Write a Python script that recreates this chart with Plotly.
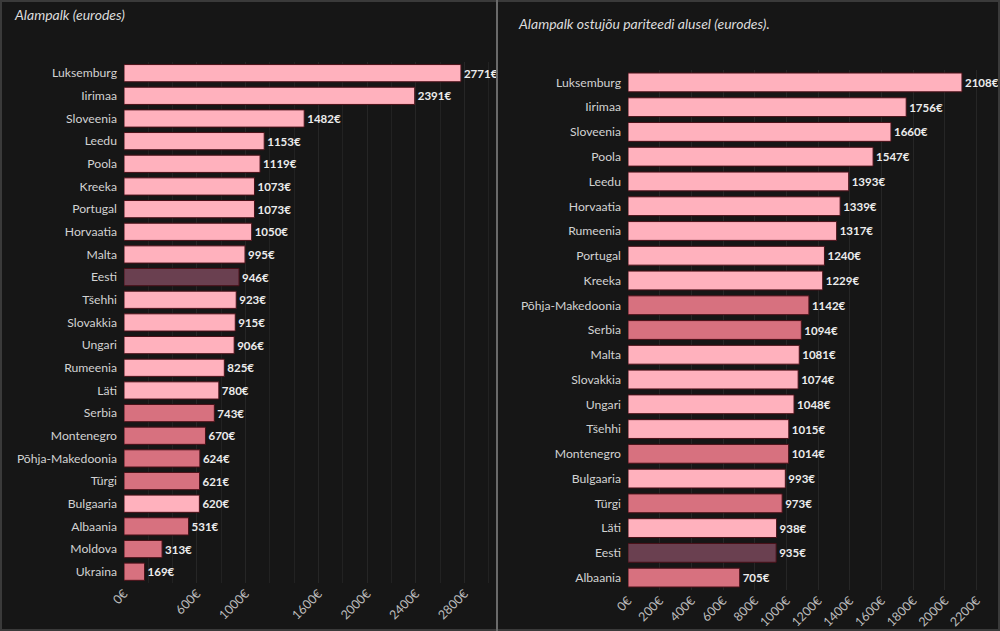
import plotly.graph_objects as go
from plotly.subplots import make_subplots

# left chart: minimum wage in euros
left_countries = ["Luksemburg", "Iirimaa", "Sloveenia", "Leedu", "Poola", "Kreeka", "Portugal",
                  "Horvaatia", "Malta", "Eesti", "Tšehhi", "Slovakkia", "Ungari", "Rumeenia", "Läti",
                  "Serbia", "Montenegro", "Põhja-Makedoonia", "Türgi", "Bulgaaria", "Albaania",
                  "Moldova", "Ukraina"]
left_values = [2771, 2391, 1482, 1153, 1119, 1073, 1073, 1050, 995, 946, 923, 915, 906, 825, 780,
               743, 670, 624, 621, 620, 531, 313, 169]
left_ticks = [0, 600, 1000, 1600, 2000, 2400, 2800]

# right chart: minimum wage at purchasing power parity
right_countries = ["Luksemburg", "Iirimaa", "Sloveenia", "Poola", "Leedu", "Horvaatia", "Rumeenia",
                   "Portugal", "Kreeka", "Põhja-Makedoonia", "Serbia", "Malta", "Slovakkia", "Ungari",
                   "Tšehhi", "Montenegro", "Bulgaaria", "Türgi", "Läti", "Eesti", "Albaania"]
right_values = [2108, 1756, 1660, 1547, 1393, 1339, 1317, 1240, 1229, 1142, 1094, 1081, 1074, 1048,
                1015, 1014, 993, 973, 938, 935, 705]
right_ticks = list(range(0, 2201, 200))

non_eu = ["Serbia", "Montenegro", "Põhja-Makedoonia", "Türgi", "Albaania", "Moldova", "Ukraina"]

EU_COLOR = "#ffb1bd"
NON_EU_COLOR = "#d7717f"
EST_COLOR = "#6a4050"
TXT = "#d2d2d2"
FONT = "Lato"


def bar_colors(countries):
    out = []
    for c in countries:
        if c == "Eesti":
            out.append(EST_COLOR)
        elif c in non_eu:
            out.append(NON_EU_COLOR)
        else:
            out.append(EU_COLOR)
    return out


fig = make_subplots(rows=1, cols=2)

fig.add_trace(go.Bar(
    x=left_values, y=left_countries, orientation="h",
    marker=dict(color=bar_colors(left_countries), line=dict(color="#4a1018", width=1)),
    text=[f"<b>{v}€</b>" for v in left_values], textposition="outside", cliponaxis=False,
    textfont=dict(color="#ececec", size=11.5, family=FONT),
    showlegend=False, hoverinfo="x+y",
), row=1, col=1)

fig.add_trace(go.Bar(
    x=right_values, y=right_countries, orientation="h",
    marker=dict(color=bar_colors(right_countries), line=dict(color="#4a1018", width=1)),
    text=[f"<b>{v}€</b>" for v in right_values], textposition="outside", cliponaxis=False,
    textfont=dict(color="#ececec", size=11.5, family=FONT),
    showlegend=False, hoverinfo="x+y",
), row=1, col=2)

fig.update_traces(width=0.76)

axis_common = dict(
    showline=False, zeroline=False, gridcolor="#262626", gridwidth=1, automargin=False,
    tickangle=-45, tickfont=dict(color="#bdbdbd", size=12.5, family=FONT), ticks="",
)

fig.update_xaxes(domain=[0.124, 0.49], range=[0, 3010], tickmode="array", tickvals=left_ticks,
                 ticktext=[f"{t}€" for t in left_ticks],
                 minor=dict(dtick=200, showgrid=True, gridcolor="#222222"),
                 **axis_common, row=1, col=1)
fig.update_xaxes(domain=[0.628, 0.99], range=[0, 2285], tickmode="array", tickvals=right_ticks,
                 ticktext=[f"{t}€" for t in right_ticks],
                 **axis_common, row=1, col=2)

fig.update_yaxes(domain=[0.076, 0.902], autorange="reversed", showgrid=False, automargin=False,
                 tickfont=dict(color=TXT, size=12.2, family=FONT), ticklabelstandoff=6,
                 row=1, col=1)
fig.update_yaxes(domain=[0.065, 0.889], autorange="reversed", showgrid=False, automargin=False,
                 tickfont=dict(color=TXT, size=12.2, family=FONT), ticklabelstandoff=6,
                 row=1, col=2)

fig.update_layout(
    width=1000, height=631,
    margin=dict(l=0, r=0, t=0, b=0, autoexpand=False),
    paper_bgcolor="#161616", plot_bgcolor="#161616",
    bargap=0.24,
    font=dict(family=FONT, color=TXT),
    shapes=[
        dict(type="rect", xref="paper", yref="paper", x0=0, x1=1, y0=0, y1=1,
             line=dict(color="#3a3a3a", width=4), fillcolor="rgba(0,0,0,0)"),
        dict(type="line", xref="paper", yref="paper", x0=0.497, x1=0.497, y0=0, y1=1,
             line=dict(color="#6a6a6a", width=2)),
    ],
    annotations=[
        dict(text="<i>Alampalk (eurodes)</i>", xref="paper", yref="paper", x=0.012, y=0.977,
             xanchor="left", yanchor="middle", showarrow=False,
             font=dict(size=14, color="#dcdcdc", family=FONT)),
        dict(text="<i>Alampalk ostujõu pariteedi alusel (eurodes).</i>", xref="paper", yref="paper",
             x=0.516, y=0.962, xanchor="left", yanchor="middle", showarrow=False,
             font=dict(size=14, color="#dcdcdc", family=FONT)),
    ],
)

# drop the page's default body margin so the figure sits at the top-left corner
fig.write_html("out.html", config={"displayModeBar": False},
               post_script="document.body.style.margin='0';document.body.style.overflow='hidden';")
